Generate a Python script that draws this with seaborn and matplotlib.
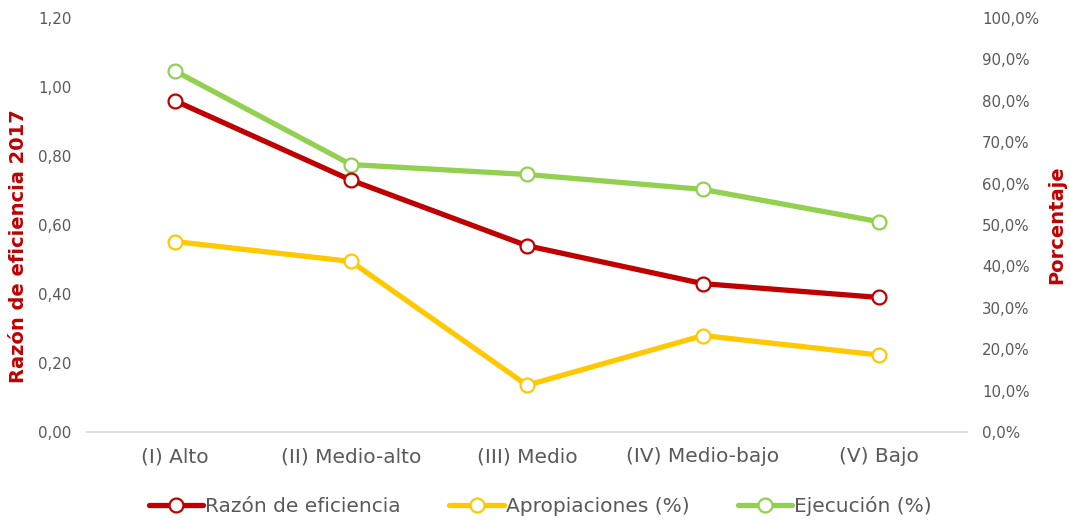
import numpy as np
import pandas as pd
import matplotlib
matplotlib.use("Agg")
import matplotlib.pyplot as plt
import seaborn as sns
from matplotlib.ticker import FuncFormatter, MultipleLocator

categories = ["(I) Alto", "(II) Medio-alto", "(III) Medio", "(IV) Medio-bajo", "(V) Bajo"]
razon = [0.96, 0.73, 0.54, 0.43, 0.39]
apropiaciones = [46.0, 41.2, 11.3, 23.3, 18.6]
ejecucion = [87.2, 64.6, 62.2, 58.6, 50.8]

RED = "#C00000"
YELLOW = "#FFC800"
GREEN = "#92D050"
GRAY = "#595959"

sns.set_style("white")
plt.rcParams["font.family"] = ["DejaVu Sans"]

df = pd.DataFrame({"cat": categories, "razon": razon,
                   "apro": apropiaciones, "ejec": ejecucion})
df["x"] = np.arange(len(categories))

fig = plt.figure(figsize=(10.7, 5.21), dpi=100)
ax = fig.add_axes([0.0813, 0.1708, 0.8224, 0.7947])
ax2 = ax.twinx()

line_kw = dict(linewidth=3.8, marker="o", markersize=10, markerfacecolor="white",
               markeredgewidth=1.6)
sns.lineplot(data=df, x="x", y="apro", ax=ax2, color=YELLOW, markeredgecolor=YELLOW,
             label="Apropiaciones (%)", legend=False, **line_kw)
sns.lineplot(data=df, x="x", y="ejec", ax=ax2, color=GREEN, markeredgecolor=GREEN,
             label="Ejecución (%)", legend=False, **line_kw)
sns.lineplot(data=df, x="x", y="razon", ax=ax, color=RED, markeredgecolor=RED,
             label="Razón de eficiencia", legend=False, **line_kw)
ax.set_zorder(ax2.get_zorder() + 1)
ax.patch.set_visible(False)

ax.set_xlim(-0.5, len(categories) - 0.5)
ax.set_ylim(0, 1.2)
ax2.set_ylim(0, 100)
ax.yaxis.set_major_locator(MultipleLocator(0.2))
ax2.yaxis.set_major_locator(MultipleLocator(10))
ax.yaxis.set_major_formatter(FuncFormatter(lambda v, p: f"{v:.2f}".replace(".", ",")))
ax2.yaxis.set_major_formatter(FuncFormatter(lambda v, p: f"{v:.1f}%".replace(".", ",")))
ax.set_xticks(df["x"])
ax.set_xticklabels(categories)

for a in (ax, ax2):
    for s in a.spines.values():
        s.set_visible(False)
    a.tick_params(length=0, colors=GRAY, labelsize=10.8)
ax.spines["bottom"].set_visible(True)
ax.spines["bottom"].set_color("#D9D9D9")
ax.spines["bottom"].set_linewidth(1.2)
ax.tick_params(axis="x", labelsize=14.5, pad=11)
ax.tick_params(axis="y", pad=11)
ax2.tick_params(axis="y", pad=11)

ax.set_xlabel("")
ax.set_ylabel("Razón de eficiencia 2017", color=RED, fontsize=14, fontweight="bold")
ax2.set_ylabel("Porcentaje", color=RED, fontsize=14, fontweight="bold")
ax.yaxis.set_label_coords(-0.067, 0.45)
ax2.yaxis.set_label_coords(1.091, 0.5)

h1, l1 = ax.get_legend_handles_labels()
h2, l2 = ax2.get_legend_handles_labels()
fig.legend(h1 + h2, l1 + l2, loc="lower center", bbox_to_anchor=(0.505, -0.025), ncol=3,
           frameon=False, fontsize=14.5, handlelength=2.7, handletextpad=0.1,
           columnspacing=2.4, labelcolor=GRAY)

fig.savefig("out.png", dpi=100)
